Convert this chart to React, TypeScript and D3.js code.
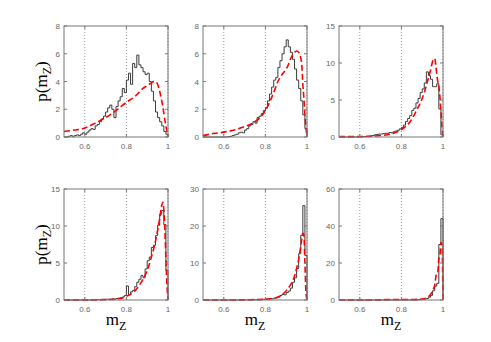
import React from "react";
import * as d3 from "d3";

const binStarts = d3.range(50).map((i) => 0.5 + i * 0.01);

const hist1 = [0, 0, 0.05, 0.1, 0.05, 0.1, 0.15, 0.1, 0.2, 0.3, 0.2, 0.35, 0.5, 0.6, 0.55, 0.8, 0.9, 1.1, 1.3, 1.5, 1.8, 2.1, 2.3, 2.0, 1.4, 2.2, 2.6, 2.9, 3.5, 3.2, 4.1, 4.6, 3.8, 5.3, 5.0, 5.9, 5.2, 5.0, 4.7, 4.5, 4.6, 4.0, 3.3, 2.6, 1.8, 1.4, 1.1, 0.8, 0.4, 0.2];
const hist2 = [0, 0, 0, 0, 0, 0, 0, 0, 0, 0, 0, 0, 0.02, 0.05, 0.1, 0.15, 0.2, 0.3, 0.35, 0.3, 0.5, 0.6, 0.8, 0.9, 1.1, 1.0, 1.4, 1.5, 1.7, 1.9, 2.1, 2.6, 3.1, 3.6, 4.1, 4.3, 5.0, 5.5, 6.0, 6.5, 7.0, 6.5, 6.1, 5.6, 4.9, 4.1, 3.5, 2.6, 1.6, 0.6];
const hist3 = [0, 0, 0, 0, 0, 0, 0, 0, 0, 0.02, 0.03, 0.05, 0.05, 0.1, 0.1, 0.15, 0.2, 0.3, 0.35, 0.4, 0.4, 0.45, 0.5, 0.5, 0.6, 0.55, 0.7, 0.8, 0.9, 1.1, 1.3, 1.6, 2.1, 2.5, 2.9, 3.6, 3.9, 4.6, 5.2, 6.0, 6.5, 7.3, 8.8, 8.3, 7.8, 6.8, 6.8, 7.2, 3.8, 0.3];
const hist4 = [0, 0, 0, 0, 0, 0, 0, 0, 0, 0, 0, 0, 0, 0.02, 0.03, 0.05, 0.05, 0.05, 0.1, 0.08, 0.1, 0.1, 0.1, 0.15, 0.1, 0.2, 0.25, 0.3, 0.4, 0.6, 1.9, 0.7, 1.1, 1.3, 1.8, 2.4, 2.8, 3.3, 3.0, 4.2, 5.3, 5.8, 7.1, 7.4, 8.7, 10.1, 11.6, 12.1, 10.2, 4.0];
const hist5 = [0, 0, 0, 0, 0, 0, 0, 0, 0, 0, 0, 0, 0, 0, 0, 0, 0, 0, 0, 0, 0.05, 0, 0.05, 0.05, 0.1, 0.05, 0.1, 0.1, 0.15, 0.2, 0.3, 0.2, 0.4, 0.3, 0.5, 0.6, 0.8, 1.2, 1.5, 1.4, 2.0, 2.4, 3.2, 4.8, 6.0, 8.5, 12.5, 17.5, 25.5, 12];
const hist6 = [0, 0, 0, 0, 0, 0, 0, 0, 0, 0, 0, 0, 0, 0, 0, 0, 0, 0, 0, 0, 0, 0, 0, 0, 0, 0, 0, 0, 0, 0, 0, 0, 0, 0, 0, 0, 0, 0, 0.2, 0.3, 0.4, 0.6, 0.8, 1.5, 2.5, 5.0, 7.5, 9.0, 30, 44];

const fitX = [0.5, 0.55, 0.6, 0.65, 0.7, 0.75, 0.8, 0.82, 0.84, 0.86, 0.88, 0.9, 0.91, 0.92, 0.93, 0.94, 0.95, 0.96, 0.97, 0.975, 0.98, 0.985, 0.99, 0.995, 1.0];
const fit1 = [0.4, 0.5, 0.65, 1.0, 1.4, 1.9, 2.5, 2.7, 2.9, 3.2, 3.5, 3.7, 3.8, 3.9, 4.0, 4.0, 3.8, 3.3, 2.6, 2.2, 1.7, 1.2, 0.8, 0.4, 0];
const fit2 = [0.1, 0.25, 0.35, 0.5, 0.75, 1.1, 1.9, 2.5, 3.2, 4.0, 4.5, 4.9, 5.2, 5.6, 5.9, 6.1, 6.2, 6.1, 5.7, 5.2, 3.8, 2.8, 1.6, 0.7, 0];
const fit3 = [0.05, 0.05, 0.05, 0.1, 0.2, 0.4, 1.0, 1.4, 2.0, 2.9, 4.0, 5.2, 6.0, 7.0, 8.0, 9.0, 10.2, 10.6, 8.5, 7.5, 6.8, 5.5, 3.5, 1.5, 0];
const fit4 = [0, 0, 0, 0, 0.05, 0.1, 0.5, 0.8, 1.2, 1.9, 2.8, 4.0, 4.8, 5.8, 6.8, 8.0, 9.4, 11.0, 12.8, 13.2, 12.2, 9.5, 5.5, 2.0, 0];
const fit5 = [0, 0, 0, 0, 0.05, 0.1, 0.2, 0.3, 0.4, 0.8, 1.4, 2.5, 3.2, 4.0, 5.0, 6.5, 8.5, 11.0, 14.5, 16.5, 18.0, 17.5, 10.0, 2.0, 0];
const fit6 = [0, 0, 0, 0, 0.1, 0.3, 0.3, 0.3, 0.3, 0.3, 0.4, 0.5, 0.7, 1.0, 1.8, 3.0, 5.0, 8.0, 15.0, 15.5, 22.0, 24.0, 31.0, 30.0, 0];

const xTicks = [0.6, 0.8, 1];
const xTickLabels = ["0.6", "0.8", "1"];
const yMaxes = [8, 8, 15, 15, 30, 60];
const yTickSets = [
  [0, 2, 4, 6, 8],
  [0, 2, 4, 6, 8],
  [0, 5, 10, 15],
  [0, 5, 10, 15],
  [0, 10, 20, 30],
  [0, 20, 40, 60],
];
const hists = [hist1, hist2, hist3, hist4, hist5, hist6];
const fits = [fit1, fit2, fit3, fit4, fit5, fit6];

const colLefts = [64, 203, 339];
const rowTops = [26, 189];
const PW = 104;
const PH = 111;

function Panel({ idx }: { idx: number }) {
  const col = idx % 3;
  const row = Math.floor(idx / 3);
  const left = colLefts[col];
  const top = rowTops[row];
  const x = d3.scaleLinear().domain([0.5, 1]).range([left, left + PW]);
  const y = d3.scaleLinear().domain([0, yMaxes[idx]]).range([top + PH, top]);
  const h = hists[idx];
  const pts: [number, number][] = binStarts.map((b, i) => [b, h[i]] as [number, number]);
  pts.push([1, h[h.length - 1]]);
  pts.push([1, 0]);
  const histPath = d3
    .line<[number, number]>()
    .x((d) => x(d[0]))
    .y((d) => y(d[1]))
    .curve(d3.curveStepAfter)(pts) as string;
  const f = fits[idx];
  const fitPts: [number, number][] = fitX.map((v, i) => [v, f[i]] as [number, number]);
  const fitPath = d3
    .line<[number, number]>()
    .x((d) => x(d[0]))
    .y((d) => y(d[1]))
    .curve(d3.curveMonotoneX)(fitPts) as string;
  const axisColor = "#777";
  const textColor = "#666";
  return (
    <g>
      <rect x={left} y={top} width={PW} height={PH} fill="#fff" />
      {xTicks.map((t) => (
        <line key={"g" + t} x1={x(t)} x2={x(t)} y1={top} y2={top + PH} stroke="#999" strokeWidth={1} strokeDasharray="1,2" />
      ))}
      <path d={histPath} fill="none" stroke="#3a3a3a" strokeWidth={1} />
      <path d={fitPath} fill="none" stroke="#ff0000" strokeWidth={1.6} strokeDasharray="6,3" />
      <rect x={left} y={top} width={PW} height={PH} fill="none" stroke={axisColor} strokeWidth={1} />
      {xTicks.map((t) => (
        <g key={"xt" + t}>
          <line x1={x(t)} x2={x(t)} y1={top + PH} y2={top + PH - 3} stroke={axisColor} />
          <line x1={x(t)} x2={x(t)} y1={top} y2={top + 3} stroke={axisColor} />
        </g>
      ))}
      {xTicks.map((t, i) => (
        <text key={"xl" + t} x={x(t)} y={top + PH + 12} textAnchor="middle" fontSize={8} fill={textColor} fontFamily="Liberation Sans, Arial, sans-serif">
          {xTickLabels[i]}
        </text>
      ))}
      {yTickSets[idx].map((t) => (
        <g key={"yt" + t}>
          <line x1={left} x2={left + 3} y1={y(t)} y2={y(t)} stroke={axisColor} />
          <line x1={left + PW} x2={left + PW - 3} y1={y(t)} y2={y(t)} stroke={axisColor} />
          <text x={left - 4} y={y(t) + 3} textAnchor="end" fontSize={8} fill={textColor} fontFamily="Liberation Sans, Arial, sans-serif">
            {t}
          </text>
        </g>
      ))}
    </g>
  );
}

export default function App() {
  return (
    <svg width={491} height={342} style={{ display: "block", position: "absolute", left: 0, top: 0 }}>
      <rect width={491} height={342} fill="#fff" />
      {[0, 1, 2, 3, 4, 5].map((i) => (
        <Panel key={i} idx={i} />
      ))}
      {rowTops.map((t, i) => (
        <text key={"yl" + i} transform={`translate(47,${t + PH / 2}) rotate(-90)`} textAnchor="middle" fontFamily="Liberation Serif, Times New Roman, serif" fontSize={17} fill="#000">
          p(m
          <tspan fontSize={12} dy={4}>Z</tspan>
          <tspan dy={-4}>)</tspan>
        </text>
      ))}
      {colLefts.map((l, i) => (
        <text key={"xlab" + i} x={l + PW / 2} y={325} textAnchor="middle" fontFamily="Liberation Serif, Times New Roman, serif" fontSize={17} fill="#000">
          m
          <tspan fontSize={12} dy={5}>Z</tspan>
        </text>
      ))}
    </svg>
  );
}
